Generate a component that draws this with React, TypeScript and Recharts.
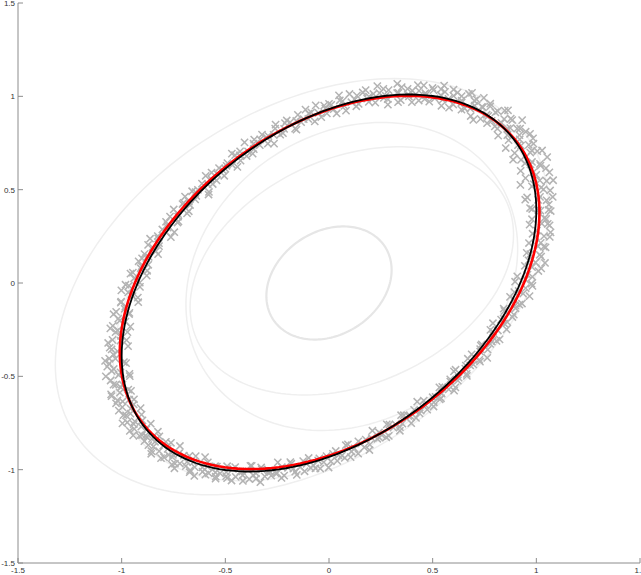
import { ScatterChart, Scatter, XAxis, YAxis } from 'recharts';

const axisTicks = [-1.5, -1, -0.5, 0, 0.5, 1, 1.5];

// ellipses as [cx, cy, ax, ay, phase in degrees]
// x = cx + ax * cos(t), y = cy + ay * cos(t - phase)
const trueEllipse = [0, 0, 1.0, 1.01, 67.3];
const fitEllipse = [0.003, 0.003, 1.012, 1.0, 68];
const startEllipse = [0, 0, 0.302, 0.303, 76.7];
const iterEllipses = [
  [-0.13, -0.02, 1.19, 1.115, 68],
  [-0.02, -0.03, 1.02, 1.03, 67],
  [0.11, 0.035, 0.8, 0.825, 79.6],
  [0.11, 0.065, 0.78, 0.665, 73],
];

// noisy samples: angle on the true ellipse (deg) and radial offset (hundredths)
const crossAngles = [
  0.4, 1.5, 2.3, 3.9, 5.0, 5.8, 7.3, 8.5, 9.2, 10.9, 12.0, 12.8, 14.3, 15.6, 16.3, 17.9, 19.1, 19.8, 21.5, 22.6, 23.5, 25.0, 26.2, 26.9, 28.6, 29.7,
  31.0, 31.8, 33.4, 34.6, 35.3, 36.9, 38.2, 38.8, 40.5, 41.6, 42.9, 43.7, 45.2, 46.5, 47.1, 48.8, 50.0, 50.7, 52.3, 53.4, 54.8, 55.6, 57.1, 58.4, 59.0,
  60.7, 61.9, 62.6, 64.2, 65.4, 66.8, 67.5, 69.1, 70.3, 71.0, 72.6, 73.8, 74.5, 76.2, 77.3, 78.7, 79.4, 81.0, 82.2, 82.9, 84.6, 85.7, 87.1, 87.8, 89.4,
  90.6, 91.3, 92.9, 94.1, 95.5, 96.2, 97.8, 99.0, 99.7, 101.3, 102.5, 103.9, 104.6, 106.2, 107.4, 108.1, 109.7, 110.9, 112.3, 113.0, 114.6, 115.8, 116.5, 118.1, 119.3,
  120.7, 121.4, 123.0, 124.2, 124.9, 126.5, 127.7, 129.1, 129.8, 131.4, 132.6, 133.3, 134.9, 136.1, 137.5, 138.2, 139.8, 141.0, 141.7, 143.3, 144.5, 145.9, 146.6, 148.2, 149.4,
  150.1, 151.7, 152.9, 154.3, 155.0, 156.6, 157.8, 158.5, 160.1, 161.3, 162.7, 163.4, 165.0, 166.2, 166.9, 168.5, 169.7, 171.1, 171.8, 173.4, 174.6, 175.3, 176.9, 178.1, 179.5,
  180.2, 181.8, 183.0, 183.7, 185.3, 186.5, 187.9, 188.6, 190.2, 191.4, 192.1, 193.7, 194.9, 196.3, 197.0, 198.6, 199.8, 200.5, 202.1, 203.3, 204.7, 205.4, 207.0, 208.2, 208.9,
  210.5, 211.7, 213.1, 213.8, 215.4, 216.6, 217.3, 218.9, 220.1, 221.5, 222.2, 223.8, 225.0, 225.7, 227.3, 228.5, 229.9, 230.6, 232.2, 233.4, 234.1, 235.7, 236.9, 238.3, 239.0,
  240.6, 241.8, 242.5, 244.1, 245.3, 246.7, 247.4, 249.0, 250.2, 250.9, 252.5, 253.7, 255.1, 255.8, 257.4, 258.6, 259.3, 260.9, 262.1, 263.5, 264.2, 265.8, 267.0, 267.7, 269.3,
  270.5, 271.9, 272.6, 274.2, 275.4, 276.1, 277.7, 278.9, 280.3, 281.0, 282.6, 283.8, 284.5, 286.1, 287.3, 288.7, 289.4, 291.0, 292.2, 292.9, 294.5, 295.7, 297.1, 297.8, 299.4,
  300.6, 301.3, 302.9, 304.1, 305.5, 306.2, 307.8, 309.0, 309.7, 311.3, 312.5, 313.9, 314.6, 316.2, 317.4, 318.1, 319.7, 320.9, 322.3, 323.0, 324.6, 325.8, 326.5, 328.1, 329.3,
  330.7, 331.4, 333.0, 334.2, 334.9, 336.5, 337.7, 339.1, 339.8, 341.4, 342.6, 343.3, 344.9, 346.1, 347.5, 348.2, 349.8, 351.0, 351.7, 353.3, 354.5, 355.9, 356.6, 358.2, 359.4,
];
const crossOffsets = [
  6, -3, 8, 2, -5, 4, 9, -1, 3, -6, 7, 1, 5, -4, 2, 8, -2, 4, 6, -3, 1, 7, -5, 3, 5, -1,
  2, -4, 5, 1, -2, 6, -3, 3, 0, 4, -5, 2, 6, -1, 3, -3, 5, 1, -2, 4, 0, -4, 3, 6, -1,
  3, -2, 1, 5, -4, 2, 0, -3, 4, 1, -5, 3, -1, 2, 6, -2, 0, 4, -3, 1, 5, -1, 3, -4, 2,
  -2, 3, 0, -4, 2, 5, -1, 1, -3, 4, 0, -2, 3, -5, 1, 4, -1, 2, -3, 0, 3, -2, 5, -1, 1,
  0, -3, 4, 1, -2, 3, -5, 2, 0, 5, -1, 3, -3, 1, 4, -2, 2, -4, 0, 3, 6, -1, 2, -3, 1,
  4, -1, 2, 5, -3, 1, 6, -2, 3, 0, 5, -4, 2, 7, -1, 3, 6, -3, 4, 1, 7, -2, 5, 2, 6,
  3, 7, -2, 5, 1, 6, -3, 4, 2, 7, -1, 5, 3, -2, 6, 1, 4, -3, 5, 2, -1, 4, 6, 0, 3,
  2, -3, 4, 1, 5, -2, 3, 0, 4, -4, 2, 5, -1, 3, 1, -3, 4, 2, 6, -2, 0, 3, -1, 4, 2,
  1, 4, -2, 3, 0, 5, -3, 2, 4, -1, 3, 1, -4, 2, 5, 0, -2, 3, 1, 4, -3, 2, 0, 5, -1,
  3, -2, 1, 4, -3, 2, 5, 0, -1, 3, -4, 2, 1, 4, -2, 0, 3, -3, 5, 1, -1, 2, 4, -2, 3,
  1, 4, -2, 3, 5, -1, 2, -3, 4, 0, 3, 5, -2, 1, 4, -1, 3, 6, 0, 2, -3, 4, 1, 5, -2,
  3, 6, -2, 4, 1, 7, -3, 5, 2, 8, -1, 4, 6, 0, 7, 3, -2, 5, 8, 1, 6, -3, 4, 7, 2,
];

// second batch of samples, read the same way
const moreAngles = [
  0.9, 2.0, 3.2, 4.6, 5.5, 6.7, 8.0, 8.9, 10.2, 11.5, 12.3, 13.7, 15.1, 15.8, 17.2, 18.6, 19.5, 20.8, 22.1, 23.1, 24.3, 25.6, 26.5, 27.9, 29.2, 30.4,
  31.5, 32.7, 34.0, 34.9, 36.2, 37.6, 38.5, 39.8, 41.1, 42.2, 43.3, 44.6, 45.9, 46.8, 48.1, 49.4, 50.3, 51.6, 52.9, 53.9, 55.1, 56.4, 57.7, 58.7, 60.1,
  61.3, 62.2, 63.5, 64.8, 65.9, 67.1, 68.4, 69.7, 70.6, 71.9, 73.2, 74.1, 75.4, 76.7, 77.9, 79.0, 80.3, 81.6, 82.5, 83.8, 85.1, 86.3, 87.4, 88.7, 90.0,
  91.0, 92.2, 93.5, 94.8, 95.8, 97.0, 98.3, 99.4, 100.6, 101.9, 103.1, 104.2, 105.5, 106.8, 107.7, 109.0, 110.3, 111.5, 112.6, 113.9, 115.2, 116.1, 117.4, 118.7, 120.0,
  121.0, 122.3, 123.6, 124.5, 125.8, 127.1, 128.3, 129.4, 130.7, 132.0, 132.9, 134.2, 135.5, 136.7, 137.8, 139.1, 140.4, 141.3, 142.6, 143.9, 145.1, 146.2, 147.5, 148.8, 149.8,
  151.0, 152.3, 153.5, 154.6, 155.9, 157.2, 158.1, 159.4, 160.7, 161.9, 163.0, 164.3, 165.6, 166.5, 167.8, 169.1, 170.3, 171.4, 172.7, 174.0, 174.9, 176.2, 177.5, 178.7, 179.8,
  181.1, 182.4, 183.3, 184.6, 185.9, 187.1, 188.2, 189.5, 190.8, 191.7, 193.0, 194.3, 195.5, 196.6, 197.9, 199.2, 200.1, 201.4, 202.7, 203.9, 205.0, 206.3, 207.6, 208.5, 209.8,
  211.1, 212.3, 213.4, 214.7, 216.0, 216.9, 218.2, 219.5, 220.7, 221.8, 223.1, 224.4, 225.3, 226.6, 227.9, 229.1, 230.2, 231.5, 232.8, 233.7, 235.0, 236.3, 237.5, 238.6, 239.9,
  241.2, 242.1, 243.4, 244.7, 245.9, 247.0, 248.3, 249.6, 250.5, 251.8, 253.1, 254.3, 255.4, 256.7, 258.0, 258.9, 260.2, 261.5, 262.7, 263.8, 265.1, 266.4, 267.3, 268.6, 269.9,
  271.1, 272.2, 273.5, 274.8, 275.7, 277.0, 278.3, 279.5, 280.6, 281.9, 283.2, 284.1, 285.4, 286.7, 287.9, 289.0, 290.3, 291.6, 292.5, 293.8, 295.1, 296.3, 297.4, 298.7, 300.0,
  300.9, 302.2, 303.5, 304.7, 305.8, 307.1, 308.4, 309.3, 310.6, 311.9, 313.1, 314.2, 315.5, 316.8, 317.7, 319.0, 320.3, 321.5, 322.6, 323.9, 325.2, 326.1, 327.4, 328.7, 329.9,
  331.0, 332.3, 333.6, 334.5, 335.8, 337.1, 338.3, 339.4, 340.7, 342.0, 342.9, 344.2, 345.5, 346.7, 347.8, 349.1, 350.4, 351.3, 352.6, 353.9, 355.1, 356.2, 357.5, 358.8, 359.7,
];
const moreOffsets = [
  -2, 5, 1, 7, -4, 3, 6, 0, 8, 2, -3, 5, 9, 1, -1, 6, 3, -5, 4, 7, 0, 2, 6, -2, 4, 8,
  1, 5, -2, 3, 7, -1, 4, 0, -3, 5, 2, -4, 1, 4, -2, 6, 0, 3, -4, 2, 5, -1, 1, 4, -3,
  4, 0, -3, 2, 5, -1, 3, -4, 1, 6, -2, 0, 4, -3, 2, 1, 5, -2, 3, 0, -4, 2, 6, -1, 3,
  1, -3, 5, 2, -1, 0, 4, -4, 2, 3, -2, 5, 0, 1, -3, 2, 4, -1, 6, -2, 1, 3, -4, 2, 0,
  3, 1, -2, 5, 0, -4, 2, 4, -1, 1, 3, -3, 5, 0, -2, 4, 1, 3, -4, 2, 0, 5, -1, 4, 2,
  5, 2, -2, 6, 3, -1, 4, 7, 1, -3, 5, 2, 6, -1, 4, 0, 7, 3, -2, 5, 1, 6, -3, 4, 8,
  6, -1, 4, 8, 2, -3, 5, 1, 7, 3, -2, 6, 0, 4, -1, 5, 2, 7, -2, 3, 6, 1, -3, 4, 2,
  4, 1, -2, 3, 6, 0, -3, 5, 2, 1, -1, 4, 6, -2, 3, 0, 5, -4, 1, 3, 4, -1, 2, 5, -2,
  3, -1, 5, 0, 2, -3, 4, 1, -2, 6, 0, 3, 2, -1, 4, -3, 1, 5, -2, 0, 3, 4, -1, 2, 6,
  -1, 4, 2, -3, 5, 1, -2, 3, 6, 0, 2, -1, 4, -3, 1, 5, 2, -2, 0, 4, 3, -4, 1, 5, 0,
  4, 2, -1, 6, 0, 3, -3, 5, 1, 2, -2, 4, 7, 0, -1, 3, 5, 1, -2, 6, 3, 0, 5, -1, 4,
  5, 1, 8, -1, 4, 6, 2, -3, 7, 3, 9, 0, 5, -2, 6, 4, 8, 1, -1, 7, 3, 5, -2, 6, 1,
];

const axisColor = '#8c8c8c';
const labelColor = '#333333';
const font = '"Liberation Sans", Arial, sans-serif';

const rad = (d: number) => (d * Math.PI) / 180;

function onEllipse(e: number[], deg: number, scale = 1) {
  const [cx, cy, ax, ay, phase] = e;
  const t = rad(deg);
  return { x: cx + scale * ax * Math.cos(t), y: cy + scale * ay * Math.cos(t - rad(phase)) };
}

const traceDegrees = Array.from({ length: 181 }, (_, i) => i * 2);
const trace = (e: number[]) => traceDegrees.map(d => onEllipse(e, d));

function samples(angles: number[], offsets: number[]) {
  const n = Math.min(angles.length, offsets.length);
  return angles.slice(0, n).map((a, i) => onEllipse(trueEllipse, a, 1 + offsets[i] / 100));
}

const crosses = [...samples(crossAngles, crossOffsets), ...samples(moreAngles, moreOffsets)];

const Cross = ({ cx, cy }: { cx?: number; cy?: number }) => {
  if (cx == null || cy == null) return <g />;
  const h = 3.6;
  return (
    <path
      d={`M${cx - h},${cy - h}L${cx + h},${cy + h}M${cx + h},${cy - h}L${cx - h},${cy + h}`}
      stroke="#b3b3b3"
      strokeWidth={1.5}
      fill="none"
    />
  );
};

const NoDot = () => <g />;

type TickProps = { x?: number; y?: number; payload?: { value: number } };

const BottomTick = ({ x = 0, y = 0, payload }: TickProps) => (
  <g>
    <line x1={x} y1={y} x2={x} y2={y - 5} stroke={axisColor} />
    <text x={x} y={y + 10} textAnchor="middle" fontSize={8} fill={labelColor} fontFamily={font}>
      {payload?.value}
    </text>
  </g>
);

const LeftTick = ({ x = 0, y = 0, payload }: TickProps) => (
  <g>
    <line x1={x} y1={y} x2={x + 5} y2={y} stroke={axisColor} />
    <text x={x - 3} y={y + 3} textAnchor="end" fontSize={8} fill={labelColor} fontFamily={font}>
      {payload?.value}
    </text>
  </g>
);

const TopTick = ({ x = 0, y = 0 }: TickProps) => (
  <line x1={x} y1={y} x2={x} y2={y + 5} stroke={axisColor} />
);

const RightTick = ({ x = 0, y = 0 }: TickProps) => (
  <line x1={x} y1={y} x2={x - 5} y2={y} stroke={axisColor} />
);

export default function App() {
  return (
    <div style={{ position: 'absolute', left: 0, top: 0, background: '#fff' }}>
      <ScatterChart width={641} height={575} margin={{ top: 3, right: 1, bottom: 0, left: 0 }}>
        <XAxis
          type="number"
          dataKey="x"
          domain={[-1.5, 1.5]}
          ticks={axisTicks}
          allowDataOverflow
          height={12}
          tickSize={0}
          tickMargin={0}
          tickLine={false}
          tick={<BottomTick />}
          axisLine={{ stroke: axisColor }}
          interval={0}
        />
        <YAxis
          type="number"
          dataKey="y"
          domain={[-1.5, 1.5]}
          ticks={axisTicks}
          allowDataOverflow
          width={18}
          tickSize={0}
          tickMargin={0}
          tickLine={false}
          tick={<LeftTick />}
          axisLine={{ stroke: axisColor }}
          interval={0}
        />
        <XAxis
          xAxisId="top"
          orientation="top"
          type="number"
          domain={[-1.5, 1.5]}
          ticks={axisTicks}
          allowDataOverflow
          height={0}
          tickSize={0}
          tickMargin={0}
          tickLine={false}
          tick={<TopTick />}
          axisLine={{ stroke: axisColor }}
          interval={0}
        />
        <YAxis
          yAxisId="right"
          orientation="right"
          type="number"
          domain={[-1.5, 1.5]}
          ticks={axisTicks}
          allowDataOverflow
          width={0}
          tickSize={0}
          tickMargin={0}
          tickLine={false}
          tick={<RightTick />}
          axisLine={{ stroke: axisColor }}
          interval={0}
        />
        {iterEllipses.map((e, i) => (
          <Scatter
            key={`iter-${i}`}
            data={trace(e)}
            line={{ stroke: '#efefef', strokeWidth: 1.5 }}
            lineType="joint"
            shape={<NoDot />}
            isAnimationActive={false}
          />
        ))}
        <Scatter
          data={trace(startEllipse)}
          line={{ stroke: '#e6e6e6', strokeWidth: 2.2 }}
          lineType="joint"
          shape={<NoDot />}
          isAnimationActive={false}
        />
        <Scatter data={crosses} shape={<Cross />} isAnimationActive={false} />
        <Scatter
          data={trace(fitEllipse)}
          line={{ stroke: '#ff0000', strokeWidth: 2.6 }}
          lineType="joint"
          shape={<NoDot />}
          isAnimationActive={false}
        />
        <Scatter
          data={trace(trueEllipse)}
          line={{ stroke: '#000000', strokeWidth: 1.8 }}
          lineType="joint"
          shape={<NoDot />}
          isAnimationActive={false}
        />
      </ScatterChart>
    </div>
  );
}
